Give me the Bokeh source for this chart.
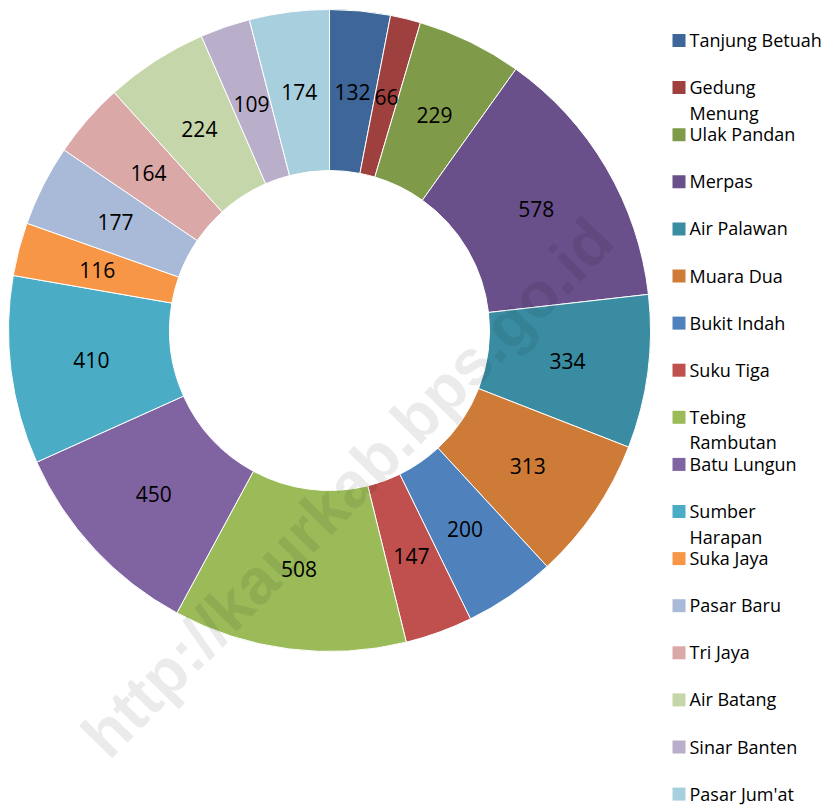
import math
from bokeh.plotting import figure
from bokeh.models import Range1d, ColumnDataSource
from bokeh.core.properties import value
from bokeh.embed import file_html
from bokeh.resources import INLINE

# ---- data ----
names = ["Tanjung Betuah", "Gedung Menung", "Ulak Pandan", "Merpas", "Air Palawan",
         "Muara Dua", "Bukit Indah", "Suku Tiga", "Tebing Rambutan", "Batu Lungun",
         "Sumber Harapan", "Suka Jaya", "Pasar Baru", "Tri Jaya", "Air Batang",
         "Sinar Banten", "Pasar Jum'at"]
values = [132, 66, 229, 578, 334, 313, 200, 147, 508, 450, 410, 116, 177, 164, 224, 109, 174]
colors = ["#3E6698", "#9E403D", "#7F9A48", "#69508A", "#3A8CA3", "#CE7B38", "#4F81BD",
          "#C0504D", "#9BBB59", "#8064A2", "#4BACC6", "#F79646", "#A9B9D8", "#DAA8A7",
          "#C6D6AB", "#BAAFCB", "#A8CFDD"]
wrapped = ["Gedung Menung", "Tebing Rambutan", "Sumber Harapan"]
watermark = "http://kaurkab.bps.go.id"

W, H = 831, 805
p = figure(width=W, height=H, output_backend="svg", toolbar_location=None,
           x_range=Range1d(0, W), y_range=Range1d(0, H),
           x_axis_location=None, y_axis_location=None, min_border=0)
p.grid.visible = False
p.outline_line_color = None
p.background_fill_color = "white"

cx, cy = 329, 805 - 330
r_in, r_out, r_lab = 160, 321, 240

total = sum(values)
starts, ends, lx, ly = [], [], [], []
cum = 0
for v in values:
    a0 = math.pi / 2 - 2 * math.pi * cum / total
    a1 = math.pi / 2 - 2 * math.pi * (cum + v) / total
    starts.append(a0)
    ends.append(a1)
    mid = (a0 + a1) / 2
    lx.append(cx + r_lab * math.cos(mid))
    ly.append(cy + r_lab * math.sin(mid))
    cum += v

src = ColumnDataSource(dict(start=starts, end=ends, color=colors,
                            lx=lx, ly=ly, lab=[str(v) for v in values]))
p.annular_wedge(x=cx, y=cy, inner_radius=r_in, outer_radius=r_out,
                start_angle="start", end_angle="end", direction="clock",
                fill_color="color", line_color="white", line_width=1, source=src)
p.text(x="lx", y="ly", text="lab", source=src, text_align="center",
       text_baseline="middle", text_font=value("Open Sans"),
       text_font_size="21px", text_color="black")

# watermark
p.text(x=[347], y=[805 - 487], text=[watermark], angle=math.radians(45.5),
       text_align="center", text_baseline="middle",
       text_font=value("Liberation Sans"), text_font_style="bold",
       text_font_size="64px", text_color="black", text_alpha=0.08)

# legend
y0, dy = 39.5, 47.1
mx, my, tx, ty, tt = [], [], [], [], []
for i, n in enumerate(names):
    yi = y0 + i * dy
    mx.append(678.5)
    my.append(805 - yi - 0.5)
    if n in wrapped:
        first, second = n.split(" ", 1)
        tx += [689, 689]
        ty += [805 - yi, 805 - (yi + 25.5)]
        tt += [first, second]
    else:
        tx.append(689)
        ty.append(805 - yi)
        tt.append(n)
p.scatter(x=mx, y=my, marker="square", size=13, fill_color=colors, line_color=None)
p.text(x=tx, y=ty, text=tt, text_align="left", text_baseline="middle",
       text_font=value("Open Sans"), text_font_size="18px", text_color="black")

open("out.html", "w").write(file_html(p, INLINE))
